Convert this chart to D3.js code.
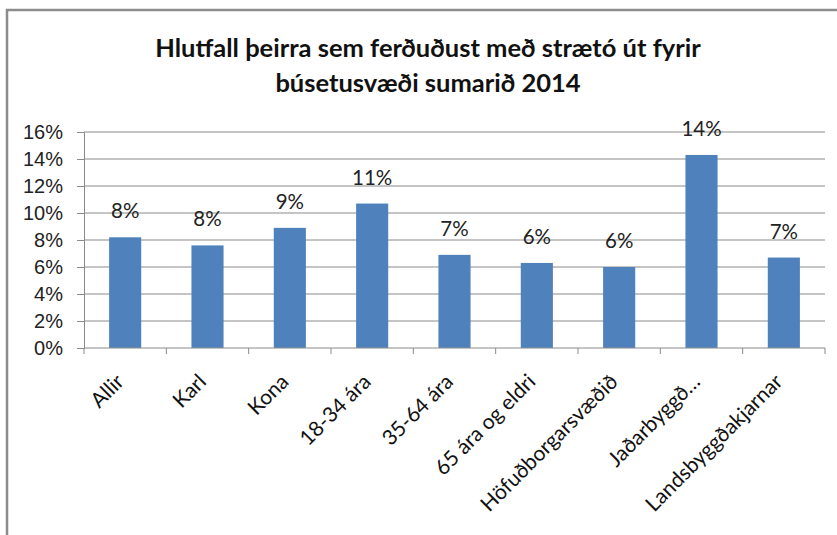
<!DOCTYPE html>
<html>
<head>
<meta charset="utf-8">
<script src="https://cdn.jsdelivr.net/npm/d3@7"></script>
<style>
  body { margin: 0; background: #fff; }
  svg { display: block; font-family: Lato, 'Open Sans', sans-serif; }
</style>
</head>
<body>
<svg id="chart" width="837" height="535"></svg>
<script>
const titleLines = ['Hlutfall þeirra sem ferðuðust með strætó út fyrir', 'búsetusvæði sumarið 2014']
const categories = ['Allir', 'Karl', 'Kona', '18-34 ára', '35-64 ára', '65 ára og eldri', 'Höfuðborgarsvæðið', 'Jaðarbyggð…', 'Landsbyggðakjarnar']
const values = [0.082, 0.076, 0.089, 0.107, 0.069, 0.063, 0.060, 0.143, 0.067]
const yTicks = [0, 0.02, 0.04, 0.06, 0.08, 0.10, 0.12, 0.14, 0.16]

const svg = d3.select('#chart')
const margin = { left: 84, right: 12, top: 132, bottom: 187 }
const width = +svg.attr('width')
const height = +svg.attr('height')

// frame of the chart box (top and left edges visible)
svg.append('path')
  .attr('d', 'M7,535 V10 H837')
  .attr('fill', 'none')
  .attr('stroke', '#8c8c8c')
  .attr('stroke-width', 2.5)

const x = d3.scaleBand()
  .domain(categories)
  .range([margin.left, width - margin.right])
  .paddingInner(0.61)
  .paddingOuter(0.305)

const xTicks = d3.scaleBand()
  .domain(categories)
  .range([margin.left, width - margin.right])

const y = d3.scaleLinear()
  .domain([0, 0.16])
  .range([height - margin.bottom, margin.top])

// title
svg.append('text')
  .attr('text-anchor', 'middle')
  .style('font-size', '25.5px')
  .style('font-weight', 'bold')
  .attr('fill', '#111')
  .selectAll('tspan')
  .data(titleLines)
  .enter()
  .append('tspan')
  .attr('x', 428)
  .attr('y', (d, i) => 57 + i * 35)
  .text(d => d)

// gridlines
svg.append('g')
  .selectAll('line')
  .data(yTicks.slice(1))
  .enter()
  .append('line')
  .attr('x1', margin.left)
  .attr('x2', width - margin.right)
  .attr('y1', d => y(d))
  .attr('y2', d => y(d))
  .attr('stroke', '#8a8a8a')
  .attr('stroke-width', 1)

// y axis
const yAxis = svg.append('g')
  .attr('transform', `translate(${margin.left},0)`)
  .call(d3.axisLeft(y).tickValues(yTicks).tickFormat(d3.format('.0%')).tickSize(7).tickPadding(14))
yAxis.select('.domain').attr('stroke', '#8a8a8a')
yAxis.selectAll('.tick line').attr('stroke', '#8a8a8a')
yAxis.selectAll('text').style('font-size', '20px').attr('fill', '#222')

// bars
svg.append('g')
  .selectAll('rect')
  .data(values)
  .enter()
  .append('rect')
  .attr('x', (d, i) => x(categories[i]))
  .attr('width', x.bandwidth())
  .attr('y', d => y(d))
  .attr('height', d => y(0) - y(d))
  .attr('fill', '#4f81bd')

// data labels
svg.append('g')
  .selectAll('text')
  .data(values)
  .enter()
  .append('text')
  .attr('x', (d, i) => x(categories[i]) + x.bandwidth() / 2)
  .attr('y', d => y(d) - 19)
  .attr('text-anchor', 'middle')
  .style('font-size', '20.5px')
  .attr('fill', '#222')
  .text(d => d3.format('.0%')(d))

// x axis baseline and ticks
const xAxis = svg.append('g')
  .attr('transform', `translate(0,${y(0)})`)
xAxis.append('line')
  .attr('x1', margin.left)
  .attr('x2', width - margin.right)
  .attr('stroke', '#8a8a8a')
xAxis.selectAll('.tk')
  .data(categories.concat(['end']))
  .enter()
  .append('line')
  .attr('class', 'tk')
  .attr('x1', (d, i) => margin.left + i * xTicks.bandwidth())
  .attr('x2', (d, i) => margin.left + i * xTicks.bandwidth())
  .attr('y1', 0)
  .attr('y2', 6)
  .attr('stroke', '#8a8a8a')

xAxis.selectAll('.lbl')
  .data(categories)
  .enter()
  .append('text')
  .attr('class', 'lbl')
  .attr('text-anchor', 'end')
  .attr('transform', d => `translate(${x(d) + x.bandwidth() / 2},${35}) rotate(-45)`)
  .style('font-size', '21px')
  .attr('fill', '#111')
  .text(d => d)
</script>
</body>
</html>
